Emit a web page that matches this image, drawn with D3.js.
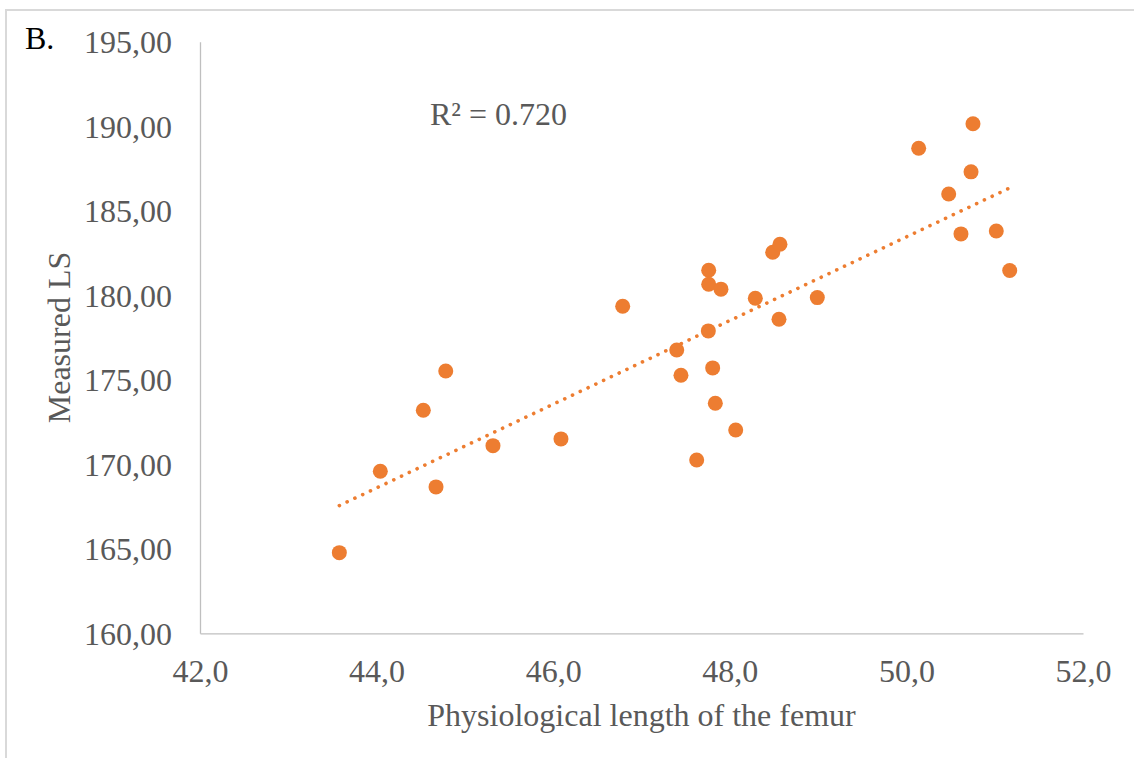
<!DOCTYPE html>
<html>
<head>
<meta charset="utf-8">
<script src="https://cdn.jsdelivr.net/npm/d3@7"></script>
<style>
  html, body { margin: 0; padding: 0; background: #fff; }
  svg { display: block; }
  text { font-family: "Liberation Serif", "Times New Roman", serif; }
</style>
</head>
<body>
<svg id="chart" width="1134" height="758"></svg>
<script>
// Physiological femur length (x) against measured LS (y)
const femurLength = [
  43.578, 44.042, 44.529, 44.673, 44.783, 45.318, 46.088, 46.787, 47.399, 47.447,
  47.625, 47.761, 47.761, 47.757, 47.806, 47.836, 47.900, 48.067, 48.289, 48.486,
  48.557, 48.568, 48.991, 50.139, 50.479, 50.618, 50.732, 50.754, 51.018, 51.170
];
const measuredLS = [
  164.77, 169.59, 173.20, 168.66, 175.52, 171.10, 171.50, 179.35, 176.76, 175.27,
  170.25, 181.48, 180.65, 177.89, 175.70, 173.61, 180.36, 172.03, 179.82, 182.54,
  178.58, 183.02, 179.86, 188.70, 185.99, 183.63, 187.30, 190.15, 183.80, 181.46
];
const xTicks = [42, 44, 46, 48, 50, 52];
const yTicks = [160, 165, 170, 175, 180, 185, 190, 195];
const panelLabel = "B.";
const xTitle = "Physiological length of the femur";
const yTitle = "Measured LS";
const r2Label = "R² = 0.720";

const ORANGE = "#ED7D31";
const TEXT_GRAY = "#595959";
const AXIS_GRAY = "#BFBFBF";

const svg = d3.select("#chart");
const plot = { left: 200, right: 1083, top: 41.7, bottom: 633.3 };

const x = d3.scaleLinear().domain([42, 52]).range([plot.left, plot.right]);
const y = d3.scaleLinear().domain([160, 195]).range([plot.bottom, plot.top]);

// chart frame (top and left edges visible)
svg.append("rect")
  .attr("x", 6).attr("y", 10)
  .attr("width", 1200).attr("height", 800)
  .attr("fill", "none")
  .attr("stroke", "#D9D9D9")
  .attr("stroke-width", 2);

// x axis
const xAxis = svg.append("g")
  .attr("transform", `translate(0,${plot.bottom})`)
  .call(d3.axisBottom(x).tickValues(xTicks).tickSize(0).tickPadding(0)
    .tickFormat(d => d3.format(".1f")(d).replace(".", ",")));
xAxis.select(".domain").attr("stroke", AXIS_GRAY).attr("stroke-width", 1.3);
xAxis.selectAll("text")
  .attr("y", 48.5).attr("dy", null)
  .attr("fill", TEXT_GRAY)
  .style("font-size", "32px")
  .style("font-family", "'Liberation Serif', 'Times New Roman', serif");

// y axis
const yAxis = svg.append("g")
  .attr("transform", `translate(${plot.left},0)`)
  .call(d3.axisLeft(y).tickValues(yTicks).tickSize(0).tickPadding(0)
    .tickFormat(d => d3.format(".2f")(d).replace(".", ",")));
yAxis.select(".domain").attr("stroke", AXIS_GRAY).attr("stroke-width", 1.3);
yAxis.selectAll("text")
  .attr("x", -28).attr("dy", "0.34em")
  .attr("fill", TEXT_GRAY)
  .style("font-size", "32px")
  .style("font-family", "'Liberation Serif', 'Times New Roman', serif");

// least-squares trend line over the observed range
const n = femurLength.length;
const mx = d3.mean(femurLength), my = d3.mean(measuredLS);
let sxy = 0, sxx = 0;
for (let i = 0; i < n; i++) {
  sxy += (femurLength[i] - mx) * (measuredLS[i] - my);
  sxx += (femurLength[i] - mx) ** 2;
}
const slope = sxy / sxx, intercept = my - slope * mx;
const [xMin, xMax] = d3.extent(femurLength);
const trend = [xMin, xMax].map(v => [v, intercept + slope * v]);

svg.append("path")
  .datum(trend)
  .attr("d", d3.line().x(d => x(d[0])).y(d => y(d[1])))
  .attr("fill", "none")
  .attr("stroke", ORANGE)
  .attr("stroke-width", 3.6)
  .attr("stroke-linecap", "round")
  .attr("stroke-dasharray", "0.1 8.5");

// observations
svg.append("g").selectAll("circle")
  .data(femurLength.map((v, i) => [v, measuredLS[i]]))
  .join("circle")
  .attr("cx", d => x(d[0]))
  .attr("cy", d => y(d[1]))
  .attr("r", 7.5)
  .attr("fill", ORANGE);

// texts
svg.append("text")
  .attr("x", 25).attr("y", 48.5)
  .attr("fill", "#000")
  .style("font-size", "32px")
  .text(panelLabel);

svg.append("text")
  .attr("x", 430).attr("y", 125)
  .attr("fill", TEXT_GRAY)
  .style("font-size", "32px")
  .text(r2Label);

svg.append("text")
  .attr("x", (plot.left + plot.right) / 2).attr("y", 726)
  .attr("text-anchor", "middle")
  .attr("fill", TEXT_GRAY)
  .style("font-size", "32px")
  .text(xTitle);

svg.append("text")
  .attr("transform", `translate(70,${(plot.top + plot.bottom) / 2}) rotate(-90)`)
  .attr("text-anchor", "middle")
  .attr("fill", TEXT_GRAY)
  .style("font-size", "32px")
  .text(yTitle);
</script>
</body>
</html>
